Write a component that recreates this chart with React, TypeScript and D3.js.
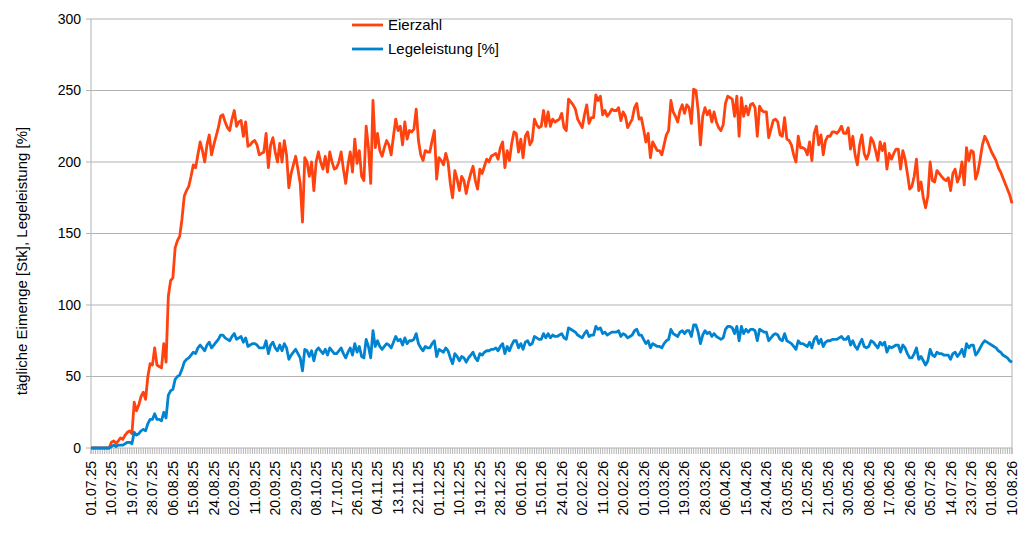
import * as d3 from "d3";
import React from "react";

// daily values starting 01.07.25
const startDate = new Date(2025, 6, 1);

const eierzahl = [
  0, 0, 0, 0, 0, 0, 0, 0, 0,
  4, 5, 3, 5, 7, 6, 9, 11, 12, 10, 32,
  26, 30, 36, 39, 34, 50, 59, 58, 70, 58,
  57, 56, 73, 60, 106, 117, 119, 140, 145, 148,
  160, 176, 180, 183, 190, 198, 196, 205, 214, 208,
  200, 212, 219, 205, 212, 218, 224, 232, 233, 228,
  224, 222, 230, 236, 225, 228, 229, 218, 228, 211,
  212, 214, 215, 212, 205, 206, 207, 220, 196, 212,
  217, 207, 200, 213, 200, 215, 205, 182, 192, 198,
  204, 195, 185, 158, 203, 200, 190, 200, 180, 200,
  207, 200, 195, 204, 193, 207, 200, 195, 196, 200,
  207, 195, 185, 198, 207, 193, 216, 199, 208, 190,
  187, 225, 210, 185, 243, 210, 220, 208, 204, 210,
  215, 212, 205, 218, 230, 222, 225, 212, 228, 216,
  222, 221, 223, 237, 215, 205, 201, 208, 207, 207,
  215, 222, 188, 203, 201, 198, 206, 200, 185, 175,
  194, 188, 180, 190, 187, 178, 186, 192, 197, 187,
  181, 195, 192, 197, 202, 200, 204, 205, 206, 202,
  210, 214, 196, 208, 201, 213, 221, 220, 207, 216,
  203, 218, 221, 212, 215, 230, 226, 224, 225, 236,
  225, 235, 225, 230, 228, 229, 230, 234, 224, 222,
  244, 242, 240, 237, 230, 227, 224, 233, 240, 227,
  231, 231, 247, 243, 246, 233, 236, 232, 234, 237,
  236, 236, 238, 229, 235, 232, 224, 227, 230, 238,
  241, 230, 231, 223, 214, 220, 203, 214, 211, 208,
  208, 205, 212, 219, 222, 243, 235, 232, 228, 236,
  240, 234, 240, 238, 227, 251, 250, 236, 212, 232,
  238, 233, 236, 228, 235, 228, 224, 222, 226, 241,
  246, 245, 244, 232, 246, 218, 245, 232, 239, 233,
  240, 241, 238, 218, 239, 236, 235, 235, 217, 223,
  229, 230, 228, 219, 218, 231, 216, 215, 212, 205,
  200, 218, 210, 210, 209, 205, 214, 201, 220, 225,
  212, 219, 205, 215, 218, 218, 221, 221, 220, 222,
  225, 220, 220, 224, 209, 218, 205, 198, 212, 219,
  206, 202, 206, 217, 214, 208, 201, 214, 208, 213,
  195, 206, 202, 206, 209, 209, 195, 208, 202, 192,
  181, 183, 190, 202, 180, 186, 175, 168, 176, 200,
  187, 186, 194, 192, 190, 188, 187, 189, 180, 192,
  195, 186, 190, 200, 184, 210, 201, 208, 207, 188,
  193, 202, 212, 218, 215, 211, 207, 204, 201, 196,
  193, 189, 185, 181, 177, 171,
];

const legeleistung = [
  0, 0, 0, 0, 0, 0, 0, 0, 0,
  1, 2, 1, 2, 2, 2, 3, 4, 4, 3, 11,
  9, 10, 12, 13, 12, 17, 20, 20, 24, 20,
  20, 19, 25, 21, 37, 40, 41, 48, 50, 51,
  55, 60, 62, 63, 65, 67, 66, 70, 72, 70,
  68, 72, 74, 70, 72, 74, 76, 79, 79, 77,
  76, 75, 78, 80, 76, 77, 78, 74, 77, 71,
  72, 73, 73, 72, 70, 70, 70, 75, 66, 72,
  74, 70, 68, 72, 68, 73, 70, 62, 65, 67,
  69, 66, 63, 54, 69, 68, 64, 68, 61, 68,
  70, 68, 66, 69, 65, 70, 68, 66, 66, 68,
  70, 66, 63, 67, 70, 65, 73, 67, 71, 64,
  63, 76, 71, 63, 82, 71, 75, 71, 69, 71,
  73, 72, 70, 74, 78, 75, 76, 72, 77, 73,
  75, 75, 76, 80, 73, 70, 68, 71, 70, 70,
  73, 75, 64, 69, 68, 67, 70, 68, 63, 59,
  66, 64, 61, 64, 63, 60, 63, 65, 67, 63,
  61, 66, 65, 67, 68, 68, 69, 69, 70, 68,
  71, 73, 66, 71, 68, 72, 75, 75, 70, 73,
  69, 74, 75, 72, 73, 78, 77, 76, 76, 80,
  77, 80, 77, 79, 78, 78, 79, 80, 77, 76,
  84, 83, 82, 81, 79, 78, 77, 80, 82, 78,
  79, 79, 85, 83, 84, 80, 81, 79, 80, 81,
  81, 81, 82, 78, 80, 79, 77, 78, 79, 82,
  83, 79, 79, 76, 73, 75, 70, 73, 72, 71,
  71, 70, 73, 75, 76, 83, 80, 79, 78, 81,
  82, 80, 82, 82, 78, 86, 86, 81, 73, 79,
  82, 80, 81, 78, 80, 78, 77, 76, 77, 83,
  85, 85, 84, 80, 85, 75, 85, 80, 83, 81,
  83, 83, 82, 75, 83, 82, 81, 81, 75, 77,
  79, 80, 79, 76, 75, 80, 75, 74, 73, 71,
  69, 75, 73, 73, 72, 71, 74, 70, 76, 78,
  73, 76, 71, 74, 75, 75, 76, 76, 76, 77,
  78, 76, 76, 78, 72, 75, 71, 69, 73, 76,
  71, 70, 71, 75, 74, 72, 70, 74, 72, 74,
  67, 71, 70, 71, 72, 72, 67, 72, 70, 66,
  63, 63, 66, 70, 62, 64, 61, 58, 61, 69,
  65, 64, 67, 66, 66, 65, 65, 65, 62, 66,
  67, 64, 66, 69, 64, 73, 70, 72, 72, 65,
  67, 70, 73, 75, 74, 73, 72, 71, 70, 68,
  67, 65, 64, 63, 61, 60,
];

const seriesNames = ["Eierzahl", "Legeleistung [%]"];
const seriesColors = ["#ff420e", "#0084d1"];
const yTicks = [0, 50, 100, 150, 200, 250, 300];
const labelStepDays = 9;
const yTitle = "tägliche Eimenge [Stk], Legeleistung [%]";

const W = 1024;
const H = 552;
const m = { l: 91, r: 12, t: 19, b: 104 };
const font = "'Liberation Sans', Arial, sans-serif";
const grid = "#b3b3b3";

export default function App() {
  const days = eierzahl.map((_, i) => d3.timeDay.offset(startDate, i));
  const x = d3.scaleTime()
    .domain([days[0], days[days.length - 1]])
    .range([m.l, W - m.r]);
  const y = d3.scaleLinear().domain([0, 300]).range([H - m.b, m.t]);
  const line = d3.line<number>()
    .x((_, i) => x(days[i]))
    .y((d) => y(d));
  const fmt = d3.timeFormat("%d.%m.%y");
  const labelDays = days.filter((_, i) => i % labelStepDays === 0);
  const y0 = y(0);

  return (
    <svg width={W} height={H} style={{ position: "absolute", left: 0, top: 0, background: "#fff" }}
      fontFamily={font}>
      {/* horizontal grid */}
      {yTicks.map((t) => (
        <g key={t}>
          <line x1={m.l - 5} x2={W - m.r} y1={y(t)} y2={y(t)} stroke={grid} strokeWidth={1} />
          <text x={m.l - 10} y={y(t)} dy="0.35em" textAnchor="end" fontSize={14} fill="#000">{t}</text>
        </g>
      ))}
      <line x1={m.l} x2={m.l} y1={m.t} y2={y0 + 6} stroke={grid} />
      <line x1={W - m.r} x2={W - m.r} y1={m.t} y2={y0 + 6} stroke={grid} />
      {/* daily ticks */}
      {days.map((d, i) => (
        <line key={i} x1={x(d)} x2={x(d)} y1={y0} y2={y0 + 6} stroke={grid} strokeWidth={1} />
      ))}
      {labelDays.map((d, i) => (
        <text key={i} transform={`translate(${x(d)},${y0 + 13}) rotate(-90)`} dy="0.35em"
          textAnchor="end" fontSize={14} fill="#000">{fmt(d)}</text>
      ))}
      <text transform={`translate(22,261) rotate(-90)`} dy="0.35em"
        textAnchor="middle" fontSize={15} fill="#000">{yTitle}</text>
      {/* series */}
      <path d={line(eierzahl) ?? ""} fill="none" stroke={seriesColors[0]} strokeWidth={2.8} strokeLinejoin="round" />
      <path d={line(legeleistung) ?? ""} fill="none" stroke={seriesColors[1]} strokeWidth={2.8} strokeLinejoin="round" />
      {/* legend */}
      {seriesNames.map((n, i) => (
        <g key={n} transform={`translate(352,${25 + i * 24})`}>
          <line x1={0} x2={31} y1={0} y2={0} stroke={seriesColors[i]} strokeWidth={2.8} />
          <text x={36} y={0} dy="0.35em" fontSize={15} fill="#000">{n}</text>
        </g>
      ))}
    </svg>
  );
}
